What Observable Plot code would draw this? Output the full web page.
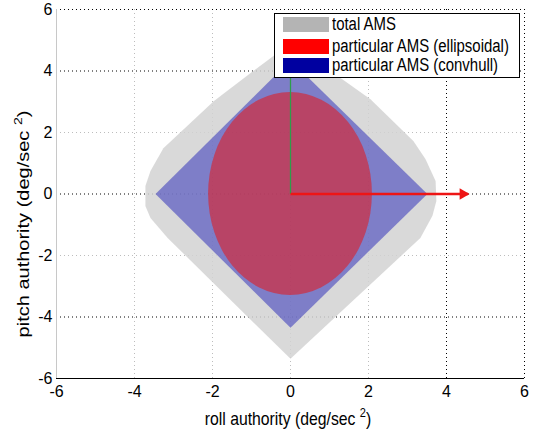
<!DOCTYPE html>
<html>
<head>
<meta charset="utf-8">
<script src="https://cdn.jsdelivr.net/npm/d3@7"></script>
<script src="https://cdn.jsdelivr.net/npm/@observablehq/plot@0.6"></script>
<style>
  html, body { margin: 0; padding: 0; background: #fff; overflow: hidden; }
  #wrap { position: relative; width: 535px; height: 430px; font-family: "Liberation Sans", Arial, sans-serif; color: #000; }
  #chart svg { display: block; }
  .legend { position: absolute; left: 274px; top: 13px; width: 246px; height: 65px; box-sizing: border-box; border: 1px solid #000; background: #fff; }
  .sw { position: absolute; left: 8px; width: 46px; height: 15px; }
  .lt { position: absolute; left: 57px; height: 15px; line-height: 15px; font-size: 18px; white-space: nowrap; transform: scaleX(0.83); transform-origin: left center; }
  .xlabel { position: absolute; left: 56px; width: 464px; top: 407px; height: 24px; line-height: 24px; text-align: center; font-size: 19px; white-space: nowrap; transform: scaleX(0.83); transform-origin: center; }
  .ylabel { position: absolute; left: -127px; top: 212px; width: 300px; height: 24px; line-height: 24px; text-align: center; font-size: 20px; white-space: nowrap; transform: rotate(-90deg) scaleY(0.8); transform-origin: center; }
  sup { font-size: 0.7em; vertical-align: 0.6em; line-height: 0; }
</style>
</head>
<body>
<div id="wrap">
  <div id="chart"></div>
  <div class="ylabel">pitch authority (deg/sec <sup>2</sup>)</div>
  <div class="xlabel">roll authority (deg/sec <sup>2</sup>)</div>
  <div class="legend">
    <div class="sw" style="top:3px;background:#b4b4b4"></div><div class="lt" style="top:3px">total AMS</div>
    <div class="sw" style="top:25px;background:#ff0000"></div><div class="lt" style="top:25px">particular AMS (ellipsoidal)</div>
    <div class="sw" style="top:44px;background:#0000a0"></div><div class="lt" style="top:44px">particular AMS (convhull)</div>
  </div>
</div>
<script>
// ---- data ----
const rollTicks = [-6, -4, -2, 0, 2, 4, 6];
const pitchTicks = [-6, -4, -2, 0, 2, 4, 6];
const darkGridRoll = [4, 6];
const faintGridRoll = [-4, -2, 0, 2];
const darkGridPitch = [6, 4, 0, -4];
const faintGridPitch = [2, -2];

// total AMS outline (roll, pitch)
const totalRoll  = [0, -1.03, -1.97, -3.26, -3.59, -3.72, -3.72, -3.59, -3.15, 0, 3.33, 3.64, 3.74, 3.72, 3.46, 3.15, 2.05, 1.03];
const totalPitch = [4.9, 3.93, 3.02, 1.49, 0.75, 0.26, -0.39, -0.78, -1.43, -5.36, -1.43, -0.71, -0.23, 0.42, 1.14, 1.72, 3.08, 4.0];

// particular AMS (convhull)
const hullRoll  = [-3.46, 0, 3.51, 0];
const hullPitch = [0, 4.35, 0, -4.35];

// particular AMS (ellipsoidal): center and semi-axes
const ellCenter = [0, 0];
const ellSemiAxes = [2.1, 3.3];

// control authority arrows
const rollArrow = [0, 0, 4.55, 0];   // x1, y1, x2, y2
const pitchArrow = [0, 0, 0, 4.5];

const totalData = totalRoll.map((r, i) => ({roll: r, pitch: totalPitch[i]}));
const hullData = hullRoll.map((r, i) => ({roll: r, pitch: hullPitch[i]}));

const ellipseMark = (index, scales) => {
  const ns = "http://www.w3.org/2000/svg";
  const e = document.createElementNS(ns, "ellipse");
  const cx = scales.x(ellCenter[0]), cy = scales.y(ellCenter[1]);
  e.setAttribute("cx", cx);
  e.setAttribute("cy", cy);
  e.setAttribute("rx", Math.abs(scales.x(ellCenter[0] + ellSemiAxes[0]) - cx));
  e.setAttribute("ry", Math.abs(scales.y(ellCenter[1] + ellSemiAxes[1]) - cy));
  e.setAttribute("fill", "#e71416");
  e.setAttribute("fill-opacity", "0.55");
  return e;
};

const fmt = d => String(d);

const chart = Plot.plot({
  width: 535,
  height: 430,
  marginLeft: 56,
  marginRight: 11,
  marginTop: 9,
  marginBottom: 52,
  x: {domain: [-6, 6]},
  y: {domain: [-6, 6]},
  style: {fontFamily: "'Liberation Sans', Arial, sans-serif", fontSize: "16px", background: "transparent", color: "#000"},
  marks: [
    Plot.ruleX(faintGridRoll, {stroke: "#bdbdbd", strokeDasharray: "1,3"}),
    Plot.ruleY(faintGridPitch, {stroke: "#bdbdbd", strokeDasharray: "1,3"}),
    Plot.ruleX(darkGridRoll, {stroke: "#000", strokeDasharray: "1,3"}),
    Plot.ruleY(darkGridPitch, {stroke: "#000", strokeDasharray: "1,3"}),
    Plot.line(totalData, {x: "roll", y: "pitch", curve: "linear-closed", fill: "#d2d2d2", fillOpacity: 0.85, stroke: "none"}),
    Plot.line(hullData, {x: "roll", y: "pitch", curve: "linear-closed", fill: "#2323b7", fillOpacity: 0.5, stroke: "none"}),
    ellipseMark,
    Plot.link([pitchArrow], {x1: d => d[0], y1: d => d[1], x2: d => d[2], y2: d => d[3], stroke: "#2e9e4a", strokeWidth: 1.3}),
    Plot.link([rollArrow], {x1: d => d[0], y1: d => d[1], x2: d => d[2], y2: d => d[3], stroke: "#ee1515", strokeWidth: 2.5}),
    Plot.dot([rollArrow], {x: d => d[2], y: d => d[3], symbol: "triangle2", r: 5.5, rotate: 90, dx: -5, fill: "#ee1515", stroke: "none"}),
    Plot.ruleY([-6], {stroke: "#000", strokeWidth: 1}),
    Plot.ruleX([-6], {stroke: "#c8c8c8", strokeWidth: 1}),
    Plot.axisX({ticks: rollTicks, tickSize: 0, tickPadding: 7, tickFormat: fmt, label: null}),
    Plot.axisY({ticks: pitchTicks, tickSize: 0, tickPadding: 4, tickFormat: fmt, label: null})
  ]
});
document.getElementById("chart").appendChild(chart);
</script>
</body>
</html>
